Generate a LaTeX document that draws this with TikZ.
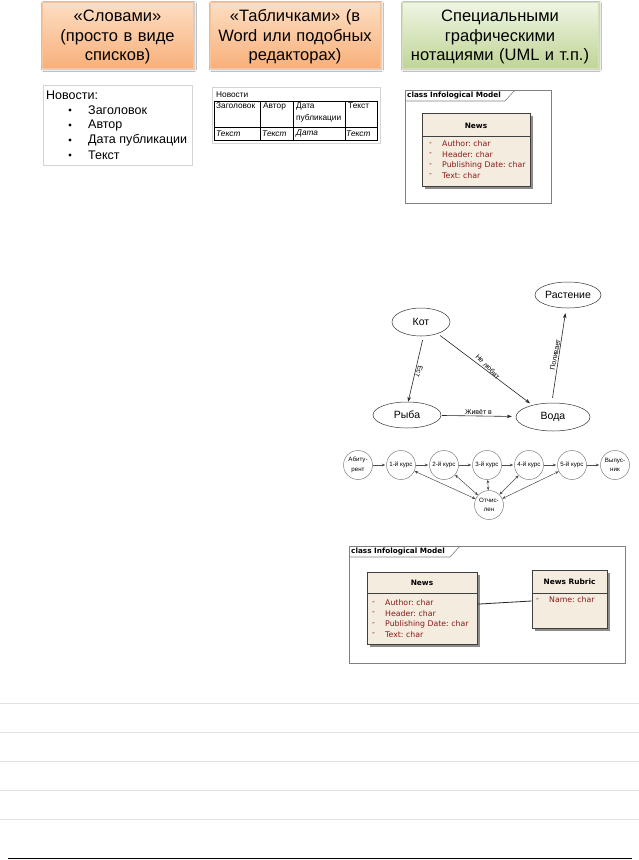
\documentclass[tikz,border=0pt]{standalone}
\usepackage{fontspec}
\setmainfont{Liberation Sans}
\newfontfamily\umlfont{DejaVu Sans}
\usetikzlibrary{shapes.geometric,arrows.meta,shadows,shadows.blur}
\definecolor{orTop}{HTML}{FDDEC3}
\definecolor{orBot}{HTML}{F8B07A}
\definecolor{grTop}{HTML}{EFF5E4}
\definecolor{grBot}{HTML}{C0D597}
\definecolor{umlred}{HTML}{8B1A1A}
\definecolor{umlfill}{HTML}{F4ECDF}
\definecolor{lightframe}{HTML}{D4D4D4}
\definecolor{rulegray}{HTML}{E2E2E2}
\tikzset{
 topbox/.style={rectangle, minimum height=66pt, inner sep=1pt,
   blur shadow={shadow xshift=1.5pt, shadow yshift=-1.5pt, shadow blur radius=2pt, shadow opacity=35}},
 toptxt/.style={inner sep=0pt, align=center, font=\fontsize{16.5}{19.5}\selectfont},
 orbox/.style={topbox, top color=orTop, bottom color=orBot, draw=orBot!60!orTop, line width=0.4pt},
 grbox/.style={topbox, top color=grTop, bottom color=grBot, draw=grBot!60!grTop, line width=0.4pt},
 listtxt/.style={font=\fontsize{12.5}{15}\selectfont, inner sep=0pt},
 tbltxt/.style={font=\fontsize{8.3}{12}\selectfont, inner sep=0pt, align=left},
 tblline/.style={draw=black, line width=0.6pt},
 boxframe/.style={draw=lightframe, line width=0.7pt},
 umlframe/.style={draw=black!50, line width=0.6pt},
 umltab/.style={font=\umlfont\fontsize{7.3}{9}\selectfont\bfseries, inner sep=0pt},
 umlbold/.style={font=\umlfont\fontsize{7.4}{9}\selectfont\bfseries, inner sep=0pt},
 umlattr/.style={font=\umlfont\fontsize{7.8}{9}\selectfont, text=umlred, inner sep=0pt},
 classbox/.style={rectangle, draw=black!75, line width=0.8pt, fill=umlfill, inner sep=0pt,
   drop shadow={shadow xshift=3pt, shadow yshift=-3pt, fill=black!45, opacity=1}},
 ell/.style={ellipse, draw=black!80, line width=0.5pt, inner sep=0pt, font=\fontsize{10.5}{12}\selectfont},
 garrow/.style={draw=black!85, line width=0.6pt, -{Stealth[length=5pt,width=3.6pt]}},
 elabel/.style={font=\fontsize{7}{8}\selectfont, inner sep=1pt},
 cnode/.style={circle, draw=black!50, line width=0.5pt, minimum size=29pt, inner sep=0pt, align=center,
   font=\fontsize{6.2}{9.5}\selectfont},
 carrow/.style={draw=black!70, line width=0.5pt, -{Stealth[length=3.5pt,width=2.8pt]}, shorten >=1pt},
 cdarrow/.style={draw=black!70, line width=0.5pt, {Stealth[length=3.5pt,width=2.8pt]}-{Stealth[length=3.5pt,width=2.8pt]}},
}
\begin{document}
\begin{tikzpicture}[x=1pt,y=-1pt]
\useasboundingbox (0,0) rectangle (639,860);
\fill[white] (0,0) rectangle (639,860);

% top boxes
\node[orbox, minimum width=151pt] (b1) at (117.5,35) {};
\node[toptxt, text width=149pt] (t1) at ([yshift=-2pt]b1.center) {«Словами»\\(просто в виде\\списков)};
\node[orbox, minimum width=170pt] (b2) at (295,35) {};
\node[toptxt, text width=168pt] (t2) at ([yshift=-2pt]b2.center) {«Табличками» (в\\Word или подобных\\редакторах)};
\node[grbox, minimum width=196pt] (b3) at (500,35) {};
\node[toptxt, text width=194pt] (t3) at ([yshift=-2pt]b3.center) {Специальными\\графическими\\нотациями (UML и т.п.)};

% list
\draw[boxframe] (43,85) rectangle (192,165);
\node[listtxt, anchor=west] (lh) at (46,95) {Новости:};
\foreach \yy/\tt [count=\i] in {110/Заголовок,125/Автор,140/Дата публикации,155/Текст}{
  \fill (70,\yy) circle (1.6pt);
  \node[listtxt, anchor=west] (li\i) at (88,\yy) {\tt};
}

% table
\draw[boxframe] (212,87) rectangle (380,143);
\node[tbltxt, anchor=west] (th) at (216,95) {Новости};
\draw[tblline] (214,101) rectangle (377,140);
\draw[tblline] (214,127) -- (377,127);
\draw[tblline] (260,101) -- (260,140) (293,101) -- (293,140) (345,101) -- (345,140);
\node[tbltxt, anchor=north west] (h1) at (216,103) {Заголовок};
\node[tbltxt, anchor=north west] (h2) at (263,103) {Автор};
\node[tbltxt, anchor=north west] (h3) at (296,103) {Дата\\публикации};
\node[tbltxt, anchor=north west] (h4) at (348,103) {Текст};
\node[tbltxt, anchor=west, font=\fontsize{8.3}{12}\selectfont\itshape] (r1) at (216,133.5) {Текст};
\node[tbltxt, anchor=west, font=\fontsize{8.3}{12}\selectfont\itshape] (r2) at (262,133.5) {Текст};
\node[tbltxt, anchor=west, font=\fontsize{8.3}{12}\selectfont\itshape] (r3) at (296,133.5) {Дата};
\node[tbltxt, anchor=west, font=\fontsize{8.3}{12}\selectfont\itshape] (r4) at (346,133.5) {Текст};

% UML 1
\draw[umlframe] (405,90) rectangle (551,203);
\draw[umlframe] (405,101) -- (505,101) -- (515,90);
\node[umltab, anchor=west] (tab1) at (407,95.5) {class Infological Model};
\node[classbox, minimum width=108pt, minimum height=73pt] (news1) at (476,149.5) {};
\draw[black!75, line width=0.8pt] (news1.west |- 0,136) -- (news1.east |- 0,136);
\node[umlbold] (n1h) at (476,125.5) {News};
\foreach \yy/\tt [count=\i] in {144/Author:~char,154.5/Header:~char,165/Publishing Date:~char,175.5/Text:~char}{
  \node[umlattr, anchor=west] (d1\i) at (429,\yy) {-};
  \node[umlattr, anchor=west] (a1\i) at (442,\yy) {\tt};
}

% graph
\node[ell, minimum width=66pt, minimum height=26pt] (rast) at (568,295) {Растение};
\node[ell, minimum width=58pt, minimum height=28pt] (kot) at (421,322) {Кот};
\node[ell, minimum width=68pt, minimum height=26pt] (ryba) at (407,415) {Рыба};
\node[ell, minimum width=74pt, minimum height=28pt] (voda) at (553,417) {Вода};
\draw[garrow, shorten <=4pt] (kot.-80) -- node[elabel, pos=0.52, rotate=-105, anchor=south] (lest) {Ест} (ryba.85);
\draw[garrow, shorten <=3pt, shorten >=3pt] (kot.-35) -- node[elabel, pos=0.5, rotate=-46, anchor=south] (lne) {Не любит} (voda.150);
\draw[garrow, shorten <=1pt, shorten >=4pt] (ryba) -- node[elabel, above, pos=0.5] (lzh) {Живёт в} (voda);
\draw[garrow, shorten <=5pt, shorten >=5pt] (voda.95) -- node[elabel, pos=0.5, rotate=79, anchor=south] (lpo) {Поливает} (rast.262);

% courses
\node[cnode] (ab) at (358,465) {Абиту-\\рент};
\node[cnode] (c1) at (401,465) {1-й курс};
\node[cnode] (c2) at (444,465) {2-й курс};
\node[cnode] (c3) at (487,465) {3-й курс};
\node[cnode] (c4) at (529,465) {4-й курс};
\node[cnode] (c5) at (572,465) {5-й курс};
\node[cnode] (vy) at (615,465) {Выпус-\\ник};
\node[cnode] (ot) at (489,505) {Отчис-\\лен};
\draw[carrow] (ab) -- (c1);
\draw[carrow] (c1) -- (c2);
\draw[carrow] (c2) -- (c3);
\draw[carrow] (c3) -- (c4);
\draw[carrow] (c4) -- (c5);
\draw[carrow] (c5) -- (vy);
\foreach \c in {c1,c2,c3,c4,c5}{\draw[cdarrow] (\c) -- (ot);}

% UML 2
\draw[umlframe] (349,546) rectangle (625,663);
\draw[umlframe] (349,557) -- (450,557) -- (460,546);
\node[umltab, anchor=west] (tab2) at (351,551.5) {class Infological Model};
\node[classbox, minimum width=110pt, minimum height=72pt] (news2) at (422,608) {};
\draw[black!75, line width=0.8pt] (news2.west |- 0,593) -- (news2.east |- 0,593);
\node[umlbold] (n2h) at (422,583) {News};
\foreach \yy/\tt [count=\i] in {603/Author:~char,613.5/Header:~char,624/Publishing Date:~char,634.5/Text:~char}{
  \node[umlattr, anchor=west] (d2\i) at (372,\yy) {-};
  \node[umlattr, anchor=west] (a2\i) at (385,\yy) {\tt};
}
\node[classbox, minimum width=75pt, minimum height=58pt] (rub) at (569.5,599) {};
\draw[black!75, line width=0.8pt] (rub.west |- 0,593) -- (rub.east |- 0,593);
\node[umlbold] (rh) at (569.5,582) {News Rubric};
\node[umlattr, anchor=west] (rd) at (536,600) {-};
\node[umlattr, anchor=west] (ra) at (549,600) {Name:~char};
\draw[black!85, line width=0.8pt] (news2.4) -- (rub.183);

% ruled lines
\foreach \yy in {703,732,761,790,819}{\draw[rulegray, line width=0.8pt] (0,\yy) -- (639,\yy);}
\draw[black, line width=1.3pt] (8,858.8) -- (632,858.8);
\end{tikzpicture}
\end{document}
